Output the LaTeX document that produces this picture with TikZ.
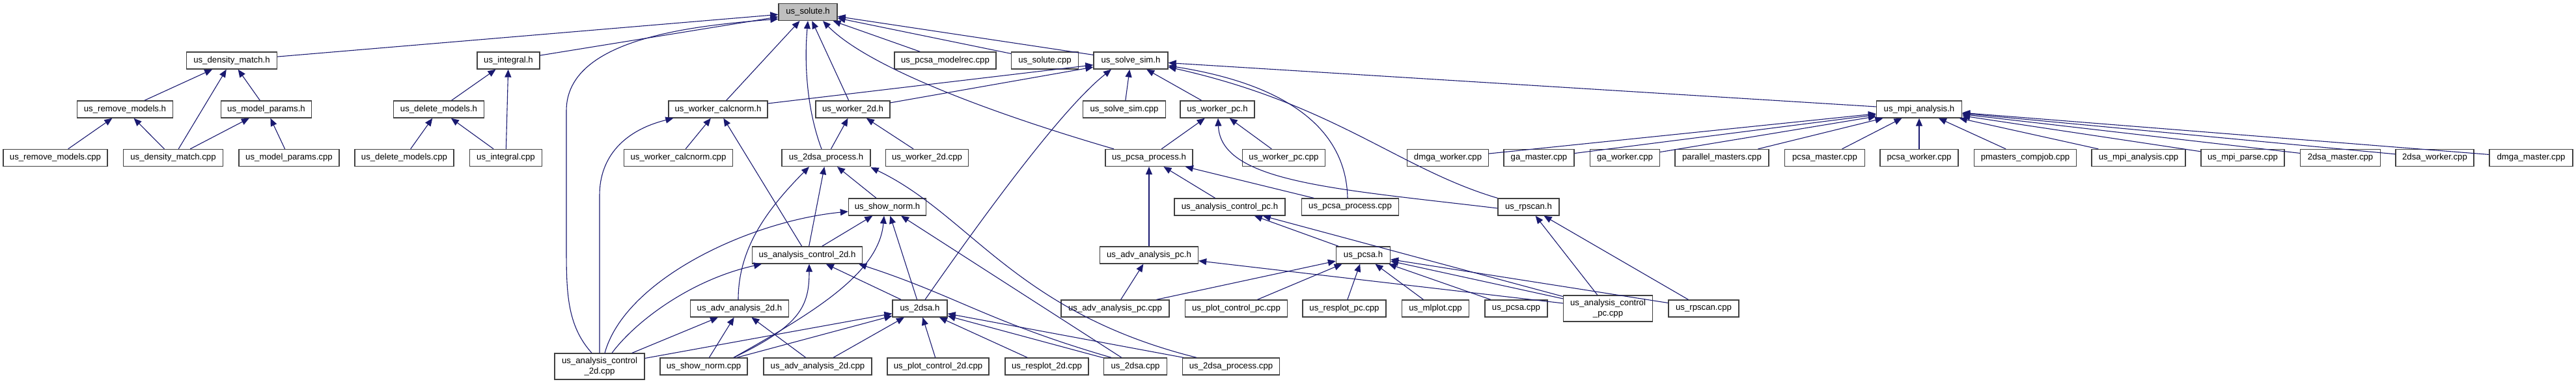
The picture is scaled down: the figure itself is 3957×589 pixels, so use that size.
\documentclass[tikz,border=0pt]{standalone}
\usepackage{fontspec}
\setmainfont{Liberation Sans}
\usetikzlibrary{arrows.meta}
\tikzset{>={Triangle[length=12pt,width=10pt]}}
\definecolor{navy}{HTML}{191970}
\definecolor{boxline}{HTML}{404040}
\definecolor{hilite}{HTML}{BFBFBF}

\begin{document}
\begin{tikzpicture}[x=1pt, y=-1pt,
  box/.style={draw=boxline, line width=1.3pt, fill=white, minimum height=26pt, inner sep=2pt, align=center, font=\fontsize{13.2}{15.5}\selectfont},
  inc/.style={->, draw=navy, line width=1.1pt}]
\useasboundingbox (0,0) rectangle (3957,589);
\node[box, fill=hilite, minimum width=90pt] (solute) at (1241,18.5) {us\_solute.h};
% row 1
\node[box, minimum width=139pt] (dmh) at (356,93) {us\_density\_match.h};
\node[box, minimum width=96pt] (inth) at (781,93) {us\_integral.h};
\node[box, minimum width=156pt] (pmrcpp) at (1452,93) {us\_pcsa\_modelrec.cpp};
\node[box, minimum width=103pt] (solcpp) at (1605,93) {us\_solute.cpp};
\node[box, minimum width=114pt] (ssh) at (1737,93) {us\_solve\_sim.h};
% row 2
\node[box, minimum width=147pt] (rmh) at (192,168) {us\_remove\_models.h};
\node[box, minimum width=139pt] (mph) at (409,168) {us\_model\_params.h};
\node[box, minimum width=139pt] (delh) at (674,168) {us\_delete\_models.h};
\node[box, minimum width=152pt] (wcnh) at (1103,168) {us\_worker\_calcnorm.h};
\node[box, minimum width=114pt] (w2dh) at (1310,168) {us\_worker\_2d.h};
\node[box, minimum width=127pt] (sscpp) at (1727,168) {us\_solve\_sim.cpp};
\node[box, minimum width=114pt] (wpch) at (1870,168) {us\_worker\_pc.h};
\node[box, minimum width=131pt] (mpih) at (2948,168) {us\_mpi\_analysis.h};
% row 3
\node[box, minimum width=160pt] (rmcpp) at (85,242.5) {us\_remove\_models.cpp};
\node[box, minimum width=153pt] (dmcpp) at (266,242.5) {us\_density\_match.cpp};
\node[box, minimum width=154pt] (mpcpp) at (444,242.5) {us\_model\_params.cpp};
\node[box, minimum width=152pt] (delcpp) at (621,242.5) {us\_delete\_models.cpp};
\node[box, minimum width=111pt] (intcpp) at (777,242.5) {us\_integral.cpp};
\node[box, minimum width=167pt] (wcncpp) at (1042,242.5) {us\_worker\_calcnorm.cpp};
\node[box, minimum width=136pt] (p2dh) at (1269,242.5) {us\_2dsa\_process.h};
\node[box, minimum width=127pt] (w2dcpp) at (1424,242.5) {us\_worker\_2d.cpp};
\node[box, minimum width=134pt] (ppch) at (1765,242.5) {us\_pcsa\_process.h};
\node[box, minimum width=127pt] (wpccpp) at (1972,242.5) {us\_worker\_pc.cpp};
\node[box, minimum width=125pt] (dmgaw) at (2224,242.5) {dmga\_worker.cpp};
\node[box, minimum width=108pt] (gam) at (2364,242.5) {ga\_master.cpp};
\node[box, minimum width=107pt] (gaw) at (2496,242.5) {ga\_worker.cpp};
\node[box, minimum width=144pt] (parm) at (2645,242.5) {parallel\_masters.cpp};
\node[box, minimum width=123pt] (pcsam) at (2803,242.5) {pcsa\_master.cpp};
\node[box, minimum width=120pt] (pcsaw) at (2948,242.5) {pcsa\_worker.cpp};
\node[box, minimum width=157pt] (pmcj) at (3111,242.5) {pmasters\_compjob.cpp};
\node[box, minimum width=144pt] (mpicpp) at (3285,242.5) {us\_mpi\_analysis.cpp};
\node[box, minimum width=128pt] (mpiparse) at (3445,242.5) {us\_mpi\_parse.cpp};
\node[box, minimum width=123pt] (m2dsa) at (3595,242.5) {2dsa\_master.cpp};
\node[box, minimum width=120pt] (w2dsa) at (3740,242.5) {2dsa\_worker.cpp};
\node[box, minimum width=128pt] (dmgam) at (3888,242.5) {dmga\_master.cpp};
% row 4
\node[box, minimum width=119pt] (snh) at (1363,318) {us\_show\_norm.h};
\node[box, minimum width=170pt] (acpch) at (1889,318) {us\_analysis\_control\_pc.h};
\node[box, minimum width=149pt] (ppccpp) at (2074,318) {us\_pcsa\_process.cpp};
\node[box, minimum width=94pt] (rpsh) at (2348,318) {us\_rpscan.h};
% row 5
\node[box, minimum width=169pt] (ac2dh) at (1240,392) {us\_analysis\_control\_2d.h};
\node[box, minimum width=151pt] (aapch) at (1765,392) {us\_adv\_analysis\_pc.h};
\node[box, minimum width=83pt] (pcsah) at (2094,392) {us\_pcsa.h};
% row 6
\node[box, minimum width=151pt] (aa2dh) at (1136,474) {us\_adv\_analysis\_2d.h};
\node[box, minimum width=84pt] (dsah) at (1413,474) {us\_2dsa.h};
\node[box, minimum width=166pt] (aapccpp) at (1713,474) {us\_adv\_analysis\_pc.cpp};
\node[box, minimum width=157pt] (pcpccpp) at (1899,474) {us\_plot\_control\_pc.cpp};
\node[box, minimum width=128pt] (rppccpp) at (2065,474) {us\_resplot\_pc.cpp};
\node[box, minimum width=103pt] (mlcpp) at (2205,474) {us\_mlplot.cpp};
\node[box, minimum width=96pt] (pcsacpp) at (2329,474) {us\_pcsa.cpp};
\node[box, minimum width=137pt, minimum height=40pt] (acpccpp) at (2470,474) {us\_analysis\_control\\\_pc.cpp};
\node[box, minimum width=108pt] (rpscpp) at (2617,474) {us\_rpscan.cpp};
% row 7
\node[box, minimum width=138pt, minimum height=40pt] (ac2dcpp) at (921,563) {us\_analysis\_control\\\_2d.cpp};
\node[box, minimum width=134pt] (sncpp) at (1081,563) {us\_show\_norm.cpp};
\node[box, minimum width=166pt] (aa2dcpp) at (1256,563) {us\_adv\_analysis\_2d.cpp};
\node[box, minimum width=156pt] (pc2dcpp) at (1441,563) {us\_plot\_control\_2d.cpp};
\node[box, minimum width=128pt] (rp2dcpp) at (1608,563) {us\_resplot\_2d.cpp};
\node[box, minimum width=97pt] (dsacpp) at (1744,563) {us\_2dsa.cpp};
\node[box, minimum width=149pt] (p2dcpp) at (1891,563) {us\_2dsa\_process.cpp};
% left group
\draw[inc] (dmh) -- (solute); \draw[inc] (inth) -- (solute);
\draw[inc] (rmh) -- (dmh); \draw[inc] (dmcpp) -- (dmh); \draw[inc] (mph) -- (dmh);
\draw[inc] (rmcpp) -- (rmh); \draw[inc] (dmcpp) -- (rmh);
\draw[inc] (dmcpp) -- (mph); \draw[inc] (mpcpp) -- (mph);
\draw[inc] (delh) -- (inth); \draw[inc] (intcpp) -- (inth);
\draw[inc] (delcpp) -- (delh); \draw[inc] (intcpp) -- (delh);
% us_solute.h
\draw[inc] (pmrcpp) -- (solute); \draw[inc] (solcpp) -- (solute); \draw[inc] (ssh) -- (solute);
\draw[inc] (wcnh) -- (solute); \draw[inc] (w2dh) -- (solute);
\draw[inc] ([xshift=-7pt]p2dh.north) .. controls (1240,170) and (1235,100) .. (solute.south);
\draw[inc] ([xshift=-54pt]ppch.north) .. controls (1560,185) and (1340,110) .. ([xshift=23pt]solute.south);
\draw[inc] ([xshift=-12pt]ac2dcpp.north) .. controls (871,500) and (870,450) .. (870,380) -- (870,170) .. controls (870,60) and (1060,40) .. ([yshift=3pt]solute.south west);
% us_analysis_control_2d.cpp
\draw[inc] (ac2dcpp.north) -- (921,300) .. controls (921,240) and (960,200) .. ([xshift=8pt]wcnh.south west);
\draw[inc] ([xshift=19pt]ac2dcpp.north) .. controls (975,495) and (1060,430) .. ([xshift=-70pt]ac2dh.south);
\draw[inc] ([xshift=8pt]ac2dcpp.north) .. controls (960,430) and (1150,340) .. ([yshift=-7pt]snh.west);
\draw[inc] (ac2dcpp) -- (aa2dh); \draw[inc] (ac2dcpp) -- (dsah);
% us_show_norm.cpp, us_adv_analysis_2d.cpp
\draw[inc] (sncpp) -- (aa2dh); \draw[inc] (sncpp) -- (dsah);
\draw[inc] ([xshift=46pt]sncpp.north) .. controls (1230,500) and (1243,470) .. ([xshift=3pt]ac2dh.south);
\draw[inc] ([xshift=46pt]sncpp.north) .. controls (1250,480) and (1350,420) .. ([xshift=-5pt]snh.south);
\draw[inc] (aa2dcpp) -- (aa2dh); \draw[inc] (aa2dcpp) -- (dsah);
% 2dsa group
\draw[inc] ([xshift=-2pt]aa2dh.north) .. controls (1134,380) and (1180,320) .. ([xshift=-26pt]p2dh.south);
\draw[inc] (ac2dh) -- (p2dh); \draw[inc] (ac2dh) -- (wcnh); \draw[inc] (ac2dh) -- (snh);
\draw[inc] (snh) -- (p2dh);
\draw[inc] (dsah) -- (ac2dh); \draw[inc] (dsah) -- (snh);
\draw[inc] ([xshift=8pt]dsah.north) .. controls (1540,290) and (1640,160) .. ([xshift=-30pt]ssh.south);
\draw[inc] ([xshift=-37pt]dsacpp.north) .. controls (1520,495) and (1470,455) .. ([xshift=-6pt]ac2dh.south east);
\draw[inc] (dsacpp) -- (snh); \draw[inc] (dsacpp) -- (dsah);
\draw[inc] (p2dcpp) -- (dsah);
\draw[inc] ([xshift=-53pt]p2dcpp.north) .. controls (1560,480) and (1490,330) .. ([yshift=-1pt]p2dh.south east);
\draw[inc] (pc2dcpp) -- (dsah); \draw[inc] (rp2dcpp) -- (dsah);
\draw[inc] (p2dh) -- (w2dh); \draw[inc] (w2dcpp) -- (w2dh);
\draw[inc] (w2dh) -- (ssh); \draw[inc] (wcnh) -- (ssh); \draw[inc] (wcncpp) -- (wcnh);
% pcsa group
\draw[inc] (ppch) -- (wpch);
\draw[inc] (aapch) -- (ppch); \draw[inc] (acpch) -- (ppch); \draw[inc] (ppccpp) -- (ppch);
\draw[inc] (wpccpp) -- (wpch); \draw[inc] (sscpp) -- (ssh); \draw[inc] (wpch) -- (ssh);
\draw[inc] ([yshift=-2pt]rpsh.west) .. controls (2050,290) and (1875,280) .. ([xshift=1pt]wpch.south);
\draw[inc] ([xshift=-4pt]ppccpp.north) .. controls (2068,200) and (1980,130) .. ([yshift=-8pt]ssh.east);
\draw[inc] (rpsh.north west) .. controls (2150,260) and (2050,160) .. ([yshift=-10pt]ssh.east);
\draw[inc] (aapccpp) -- (aapch); \draw[inc] (aapccpp) -- (pcsah);
\draw[inc] (pcpccpp) -- (pcsah); \draw[inc] (rppccpp) -- (pcsah);
\draw[inc] (mlcpp) -- (pcsah); \draw[inc] (pcsacpp) -- (pcsah);
\draw[inc] (acpccpp) -- (pcsah); \draw[inc] (acpccpp) -- (acpch);
\draw[inc] (acpccpp) -- (aapch); \draw[inc] (acpccpp) -- (rpsh);
\draw[inc] (rpscpp) -- (rpsh); \draw[inc] (rpscpp) -- (pcsah);
\draw[inc] (pcsah) -- (acpch);
% us_mpi_analysis.h
\draw[inc] (mpih) -- (ssh);
\foreach \src in {dmgaw,gam,gaw,parm,pcsam,pcsaw,pmcj,mpicpp,mpiparse,m2dsa,w2dsa,dmgam}
  \draw[inc] (\src) -- (mpih);
\end{tikzpicture}
\end{document}
